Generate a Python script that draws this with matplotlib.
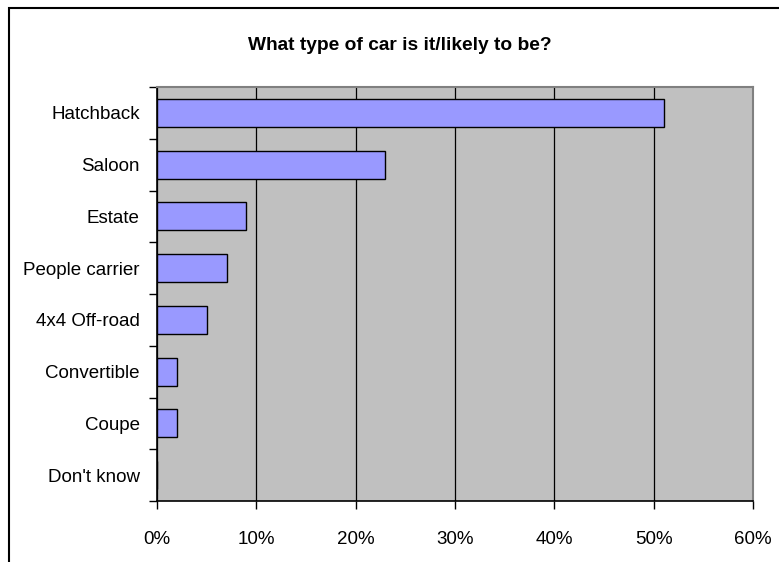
import matplotlib
matplotlib.use("Agg")
import matplotlib.pyplot as plt
from matplotlib.patches import Rectangle
from matplotlib.ticker import FuncFormatter, MultipleLocator

plt.rcParams['font.family'] = ['Liberation Sans', 'DejaVu Sans']

categories = ["Hatchback", "Saloon", "Estate", "People carrier",
              "4x4 Off-road", "Convertible", "Coupe", "Don't know"]
shares = [51, 23, 9, 7, 5, 2, 2, 0]
title = "What type of car is it/likely to be?"

W, H = 779, 562
fig = plt.figure(figsize=(W / 100, H / 100), dpi=100)
fig.patch.set_facecolor("white")

# chart frame (only the top and left edges fall inside the canvas)
fig.add_artist(Rectangle((9 / W, -0.1), 1.2, (H - 8) / H + 0.1,
                         transform=fig.transFigure, fill=False,
                         edgecolor="black", linewidth=1.5))

ax = fig.add_axes([157 / W, 1 - 501 / H, (753 - 157) / W, (501 - 87) / H])
ax.set_facecolor("#C0C0C0")

ypos = list(range(len(categories)))
ax.barh(ypos, shares, height=0.54, color="#9999FF",
        edgecolor="black", linewidth=1.0, zorder=3)

ax.set_xlim(0, 60)
ax.set_ylim(len(categories) - 0.5, -0.5)
ax.xaxis.set_major_locator(MultipleLocator(10))
ax.xaxis.set_major_formatter(FuncFormatter(lambda v, p: f"{v:.0f}%"))
ax.grid(axis="x", color="black", linewidth=0.9, zorder=1)

ax.set_yticks(ypos)
ax.set_yticklabels(categories)
ax.set_yticks([i - 0.5 for i in range(len(categories) + 1)], minor=True)
ax.tick_params(axis="y", which="major", length=0, pad=12.5, labelsize=13.5)
ax.tick_params(axis="y", which="minor", length=6, width=1, color="black")
ax.tick_params(axis="x", which="major", length=6, width=1, pad=15.5,
               labelsize=13.5, direction="out")

for side in ("top", "right"):
    ax.spines[side].set_color("#808080")
    ax.spines[side].set_linewidth(1.5)
for side in ("left", "bottom"):
    ax.spines[side].set_color("black")
    ax.spines[side].set_linewidth(1.2)

fig.text(400 / W, 1 - 45 / H, title, ha="center", va="center",
         fontsize=13.8, fontweight="bold")

fig.savefig("out.png", dpi=100)
